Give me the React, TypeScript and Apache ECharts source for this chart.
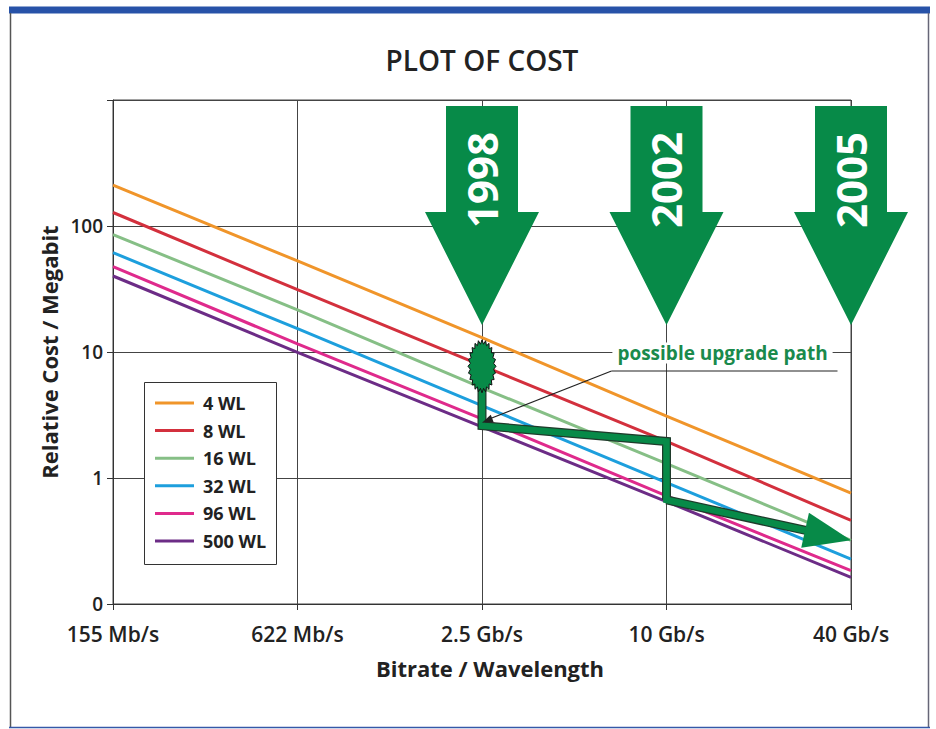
import React, { useEffect, useRef } from "react";
import * as echarts from "echarts";

const categories = ["155 Mb/s", "622 Mb/s", "2.5 Gb/s", "10 Gb/s", "40 Gb/s"];
const seriesNames = ["4 WL", "8 WL", "16 WL", "32 WL", "96 WL", "500 WL"];
const wl4 = [211, 52.8, 13.0, 3.1, 0.76];
const wl8 = [128, 31.2, 7.8, 1.95, 0.46];
const wl16 = [85.5, 21.6, 5.2, 1.3, 0.32];
const wl32 = [61.5, 15.3, 3.75, 0.92, 0.227];
const wl96 = [47.6, 11.6, 2.95, 0.72, 0.184];
const wl500 = [40.1, 9.95, 2.55, 0.65, 0.163];
const seriesValues = [wl4, wl8, wl16, wl32, wl96, wl500];
const seriesColors = ["#f0952a", "#d3303d", "#86bf86", "#1d9fdd", "#df2a8c", "#6c2c86"];
const yTickValues = [0.1, 1, 10, 100, 1000];
const yTickLabels = ["0", "1", "10", "100", ""];
const yearLabels = ["1998", "2002", "2005"];
const yearCategoryIndex = [2, 3, 4];
const upgradePath: [number, number][] = [[2, 7.7], [2, 2.6], [3, 1.95], [3, 0.67], [4, 0.32]];
const blobCenter: [number, number] = [2, 7.7];
const calloutAnchor: [number, number] = [3, 10];
const calloutTarget: [number, number] = [2.27, 2.75];

const GREEN = "#078a48";
const FONT = '"Open Sans", "Noto Sans", sans-serif';

export default function App() {
  const ref = useRef<HTMLDivElement>(null);
  useEffect(() => {
    const chart = echarts.init(ref.current!, null, { renderer: "svg" });
    const gridLeft = 113, gridTop = 100, gridRight = 85, gridBottom = 125;
    const lineSeries = seriesNames.map((name, i) => ({
      name,
      type: "line",
      data: seriesValues[i],
      symbol: "none",
      z: 2,
      lineStyle: { color: seriesColors[i], width: 3 },
      itemStyle: { color: seriesColors[i] },
    }));
    const pathPts = upgradePath.slice(0, 4);
    chart.setOption({
      animation: false,
      textStyle: { fontFamily: FONT },
      title: {
        text: "PLOT OF COST",
        left: 482,
        textAlign: "center",
        top: 46,
        padding: 0,
        textStyle: { fontFamily: FONT, fontSize: 28, fontWeight: 600, color: "#222" },
      },
      legend: {
        data: seriesNames,
        orient: "vertical",
        left: 155,
        top: 393,
        padding: 0,
        itemGap: 7.6,
        itemWidth: 39,
        itemHeight: 3,
        icon: "rect",
        z: 20,
        textStyle: { fontFamily: FONT, fontSize: 18, fontWeight: "bold", color: "#222", lineHeight: 20, padding: [0, 0, 0, 4] },
      },
      grid: {
        left: gridLeft, top: gridTop, right: gridRight, bottom: gridBottom,
        show: true, borderColor: "#444", borderWidth: 1, backgroundColor: "transparent",
      },
      xAxis: {
        type: "category",
        data: categories,
        boundaryGap: false,
        name: "Bitrate / Wavelength",
        nameLocation: "middle",
        nameGap: 53,
        nameTextStyle: { fontFamily: FONT, fontSize: 22, fontWeight: "bold", color: "#222", padding: [0, 0, 0, 16] },
        axisLine: { lineStyle: { color: "#333", width: 1 } },
        axisTick: { show: true, length: 6, lineStyle: { color: "#333" } },
        axisLabel: { fontFamily: FONT, fontSize: 21, fontWeight: 600, color: "#222", margin: 19 },
        splitLine: { show: true, lineStyle: { color: "#444", width: 1 } },
      },
      yAxis: {
        type: "log",
        logBase: 10,
        min: yTickValues[0],
        max: yTickValues[yTickValues.length - 1],
        name: "Relative Cost / Megabit",
        nameLocation: "middle",
        nameGap: 47,
        nameRotate: 90,
        nameTextStyle: { fontFamily: FONT, fontSize: 22, fontWeight: "bold", color: "#222" },
        axisLine: { show: true, lineStyle: { color: "#333", width: 1 } },
        axisTick: { show: true, length: 6, lineStyle: { color: "#333" } },
        axisLabel: {
          fontFamily: FONT, fontSize: 19, fontWeight: 600, color: "#222", margin: 10,
          formatter: (v: number) => {
            const k = yTickValues.findIndex((t) => Math.abs(Math.log10(t) - Math.log10(v)) < 1e-6);
            return k >= 0 ? yTickLabels[k] : "";
          },
        },
        splitLine: { show: true, lineStyle: { color: "#444", width: 1 } },
      },
      series: [
        ...lineSeries,
        {
          name: "path-outline",
          type: "line",
          data: pathPts,
          symbol: "none",
          z: 5,
          lineStyle: { color: "#1f3b2b", width: 9, join: "miter", cap: "butt" },
          silent: true,
        },
        {
          name: "upgrade-path",
          type: "line",
          data: pathPts,
          symbol: "none",
          z: 6,
          lineStyle: { color: GREEN, width: 6.5, join: "miter", cap: "butt" },
          silent: true,
        },
      ],
    });

    const px = (p: [number, number]) => chart.convertToPixel({ gridIndex: 0 }, p) as number[];
    const els: any[] = [];

    // outer frame
    els.push({ type: "rect", shape: { x: 9, y: 6.5, width: 921, height: 7 }, style: { fill: "#2752a8" }, z: 30 });
    els.push({ type: "line", shape: { x1: 10.5, y1: 13, x2: 10.5, y2: 728 }, style: { stroke: "#555", lineWidth: 1.5 }, z: 30 });
    els.push({ type: "line", shape: { x1: 928.5, y1: 13, x2: 928.5, y2: 728 }, style: { stroke: "#667", lineWidth: 1.5 }, z: 30 });
    els.push({ type: "line", shape: { x1: 9, y1: 727.5, x2: 930, y2: 727.5 }, style: { stroke: "#3558a8", lineWidth: 1.5 }, z: 30 });

    // legend box
    els.push({ type: "rect", shape: { x: 144.5, y: 382.5, width: 132, height: 182 }, style: { fill: "#fff", stroke: "#333", lineWidth: 1 }, z: 15 });

    // year arrows
    yearLabels.forEach((label, i) => {
      const cx = px([yearCategoryIndex[i], 1])[0];
      const top = gridTop + 6, head = gridTop + 112, tip = gridTop + 225;
      els.push({
        type: "polygon",
        shape: { points: [[cx - 36, top], [cx + 36, top], [cx + 36, head], [cx + 57, head], [cx, tip], [cx - 57, head], [cx - 36, head]] },
        style: { fill: GREEN },
        z: 12,
      });
      els.push({
        type: "text",
        x: cx - 1,
        y: gridTop + 80,
        rotation: Math.PI / 2,
        style: { text: label, fill: "#fff", font: `bold 42px ${FONT}`, align: "center", verticalAlign: "middle" },
        z: 13,
      });
    });

    // final arrow of the upgrade path
    const p3 = px(upgradePath[3]);
    const p4 = px(upgradePath[4]);
    const dx = p4[0] - p3[0], dy = p4[1] - p3[1];
    const len = Math.hypot(dx, dy);
    const ux = dx / len, uy = dy / len;
    const nx = -uy, ny = ux;
    const L = 47, HW = 18;
    const bx = p4[0] - ux * L, by = p4[1] - uy * L;
    els.push({ type: "line", shape: { x1: p3[0], y1: p3[1], x2: bx + ux * 2, y2: by + uy * 2 }, style: { stroke: "#1f3b2b", lineWidth: 9 }, z: 5 });
    els.push({ type: "line", shape: { x1: p3[0] - 3 * ux, y1: p3[1] - 3 * uy, x2: bx + ux * 2, y2: by + uy * 2 }, style: { stroke: GREEN, lineWidth: 6.5 }, z: 6 });
    els.push({
      type: "polygon",
      shape: { points: [[p4[0], p4[1]], [bx + nx * HW, by + ny * HW], [bx - nx * HW, by - ny * HW]] },
      style: { fill: GREEN },
      z: 7,
    });

    // spiky blob
    const bc = px(blobCenter);
    const blobPts: number[][] = [];
    const N = 24;
    for (let k = 0; k < N * 2; k++) {
      const a = (k * Math.PI) / N;
      const r = k % 2 === 0 ? 1 : 0.84;
      blobPts.push([bc[0] + 14 * r * Math.cos(a), bc[1] + 26.5 * r * Math.sin(a)]);
    }
    els.push({ type: "polygon", shape: { points: blobPts }, style: { fill: GREEN, stroke: "#111", lineWidth: 1 }, z: 8 });

    // callout
    const ca = px(calloutAnchor);
    const ct = px(calloutTarget);
    els.push({
      type: "text",
      x: ca[0] + 56,
      y: ca[1] + 1,
      style: {
        text: "possible upgrade path",
        fill: "#1a8a4c",
        font: `bold 19px ${FONT}`,
        align: "center",
        verticalAlign: "middle",
        backgroundColor: "#fff",
        padding: [1, 5],
      },
      z: 9,
    });
    const lx0 = ca[0] - 55, ly = ca[1] + 19;
    els.push({ type: "line", shape: { x1: lx0, y1: ly, x2: ca[0] + 171, y2: ly }, style: { stroke: "#222", lineWidth: 1.2 }, z: 9 });
    els.push({ type: "line", shape: { x1: lx0, y1: ly, x2: ct[0] + 4, y2: ct[1] - 2.4 }, style: { stroke: "#222", lineWidth: 1.2 }, z: 9 });
    {
      const ddx = ct[0] - lx0, ddy = ct[1] - ly;
      const dl = Math.hypot(ddx, ddy);
      const ax = ddx / dl, ay = ddy / dl;
      const hx = ct[0] - ax * 11, hy = ct[1] - ay * 11;
      els.push({
        type: "polygon",
        shape: { points: [[ct[0], ct[1]], [hx - ay * 4, hy + ax * 4], [hx + ay * 4, hy - ax * 4]] },
        style: { fill: "#222" },
        z: 9,
      });
    }

    chart.setOption({ graphic: { elements: els } });
    return () => chart.dispose();
  }, []);
  return <div ref={ref} style={{ position: "absolute", left: 0, top: 0, width: 936, height: 729 }} />;
}
